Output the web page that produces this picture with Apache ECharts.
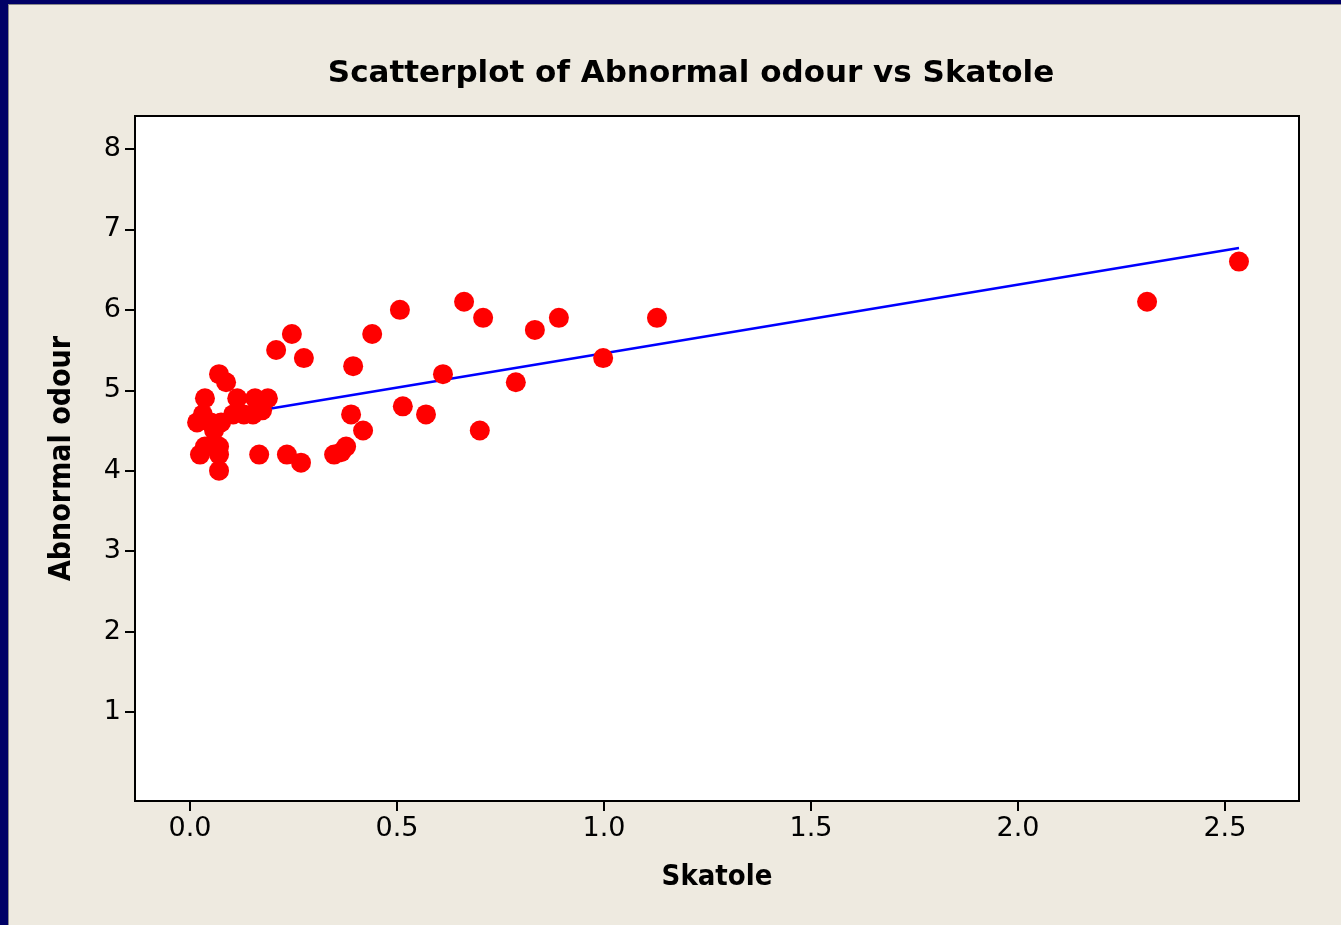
<!DOCTYPE html>
<html>
<head>
<meta charset="utf-8">
<script src="https://cdn.jsdelivr.net/npm/echarts@6/dist/echarts.min.js"></script>
<style>
html,body{margin:0;padding:0;background:#EEEAE0;}
#chart{width:1341px;height:925px;}
</style>
</head>
<body>
<div id="chart"></div>
<script>
// Data
const skatole = [0.017,0.024,0.031,0.036,0.036,0.050,0.058,0.070,0.087,0.070,0.070,0.070,0.075,0.104,0.114,0.130,0.152,0.157,0.174,0.188,0.167,0.208,0.246,0.275,0.234,0.268,0.348,0.365,0.377,0.389,0.394,0.418,0.440,0.507,0.514,0.570,0.611,0.662,0.708,0.700,0.787,0.833,0.891,0.998,1.128,2.312,2.534];
const odour   = [4.6,4.2,4.7,4.9,4.3,4.6,4.5,5.2,5.1,4.3,4.2,4.0,4.6,4.7,4.9,4.7,4.7,4.9,4.75,4.9,4.2,5.5,5.7,5.4,4.2,4.1,4.2,4.23,4.3,4.7,5.3,4.5,5.7,6.0,4.8,4.7,5.2,6.1,5.9,4.5,5.1,5.75,5.9,5.4,5.9,6.1,6.6];
const fitX = [0.017, 2.534];
const fitY = [4.62, 6.77];
const xTicks = [0.0, 0.5, 1.0, 1.5, 2.0, 2.5];
const yTicks = [1, 2, 3, 4, 5, 6, 7, 8];
const titleText = 'Scatterplot of Abnormal odour vs Skatole';
const xName = 'Skatole';
const yName = 'Abnormal odour';

const chart = echarts.init(document.getElementById('chart'), null, {renderer:'canvas'});
const pts = skatole.map((x,i)=>[x, odour[i]]);
const fit = fitX.map((x,i)=>[x, fitY[i]]);
const navy = '#000066';
chart.setOption({
  backgroundColor: '#EEEAE0',
  animation: false,
  title: {
    text: titleText, left: 686, top: 53, textAlign: 'center',
    textStyle: {fontFamily: 'DejaVu Sans', fontWeight: 'bold', fontSize: 31, color: '#000'}
  },
  graphic: [
    {type:'rect', shape:{x:0,y:0,width:8,height:925}, style:{fill:navy}, z:100},
    {type:'rect', shape:{x:0,y:0,width:1341,height:4}, style:{fill:navy}, z:100},
    {type:'rect', shape:{x:8,y:4,width:1,height:921}, style:{fill:'#8a8a8a'}, z:100},
    {type:'rect', shape:{x:8,y:4,width:1333,height:1}, style:{fill:'#8a8a8a'}, z:100}
  ],
  grid: {left: 135, top: 116, width: 1164, height: 685, show: true, backgroundColor: '#fff', borderColor: '#000', borderWidth: 2},
  xAxis: {
    type: 'value', min: -0.133, max: 2.679,
    name: xName, nameLocation: 'middle', nameGap: 62,
    nameTextStyle: {fontFamily: 'DejaVu Sans Condensed', fontWeight: 'bold', fontSize: 29, color: '#000'},
    axisLine: {show: true, onZero: false, lineStyle: {color: '#000', width: 2}},
    axisTick: {show: true, length: 10, lineStyle: {color: '#000', width: 2}, customValues: xTicks},
    axisLabel: {customValues: xTicks, formatter: v => v.toFixed(1), fontFamily: 'DejaVu Sans', fontSize: 27, color: '#000', margin: 14},
    splitLine: {show: false}
  },
  yAxis: {
    type: 'value', min: -0.107, max: 8.41,
    name: yName, nameLocation: 'middle', nameGap: 58, nameRotate: 90,
    nameTextStyle: {fontFamily: 'DejaVu Sans Condensed', fontWeight: 'bold', fontSize: 30, color: '#000'},
    axisLine: {show: true, onZero: false, lineStyle: {color: '#000', width: 2}},
    axisTick: {show: true, length: 10, lineStyle: {color: '#000', width: 2}, customValues: yTicks},
    axisLabel: {customValues: yTicks, fontFamily: 'DejaVu Sans', fontSize: 27, color: '#000', margin: 14},
    splitLine: {show: false}
  },
  series: [
    {type: 'line', data: fit, showSymbol: false, symbol: 'none', lineStyle: {color: '#0000FF', width: 2.5}, z: 2},
    {type: 'scatter', data: pts, symbol: 'circle', symbolSize: 20, itemStyle: {color: '#FF0000', opacity: 1}, z: 3}
  ]
});
</script>
</body>
</html>
